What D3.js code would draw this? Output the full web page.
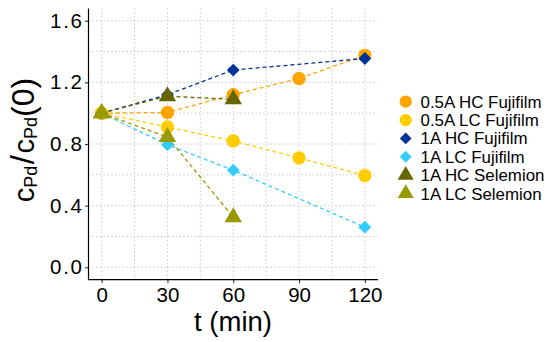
<!DOCTYPE html>
<html><head><meta charset="utf-8">
<script src="https://cdn.jsdelivr.net/npm/d3@7"></script>
<style>body{margin:0;background:#fff}svg{display:block;font-family:"Liberation Sans",Arial,sans-serif}</style>
</head><body><svg id="c" width="550" height="342"></svg>
<script>
const times = [0, 30, 60, 90, 120];
const seriesNames = ["0.5A HC Fujifilm","0.5A LC Fujifilm","1A HC Fujifilm","1A LC Fujifilm","1A HC Selemion","1A LC Selemion"];
const seriesColors = ["#FFA500","#FFCC00","#003399","#33CCFF","#666600","#999900"];
const seriesShapes = ["circle","circle","diamond","diamond","triangle","triangle"];
const v05HCFuji = [1.00, 1.005, 1.12, 1.225, 1.375];
const v05LCFuji = [1.00, 0.91, 0.82, 0.71, 0.595];
const v1HCFuji  = [1.00, 1.12, 1.28, null, 1.355];
const v1LCFuji  = [1.00, 0.795, 0.63, null, 0.26];
const v1HCSel   = [1.00, 1.11, 1.09, null, null];
const v1LCSel   = [1.00, 0.845, 0.325, null, null];
const seriesValues = [v05HCFuji, v05LCFuji, v1HCFuji, v1LCFuji, v1HCSel, v1LCSel];
const xTicks = [0, 30, 60, 90, 120];
const xMinor = [15, 45, 75, 105];
const yTicks = [0.0, 0.4, 0.8, 1.2, 1.6];
const yMinor = [0.2, 0.6, 1.0, 1.4];

const svg = d3.select("#c");
const x = d3.scaleLinear().domain([-6, 126]).range([88.5, 378]);
const y = d3.scaleLinear().domain([-0.08, 1.68]).range([279.6, 8.4]);

// grid
const grid = svg.append("g").attr("stroke", "#bdbdbd").attr("stroke-width", 1).attr("stroke-dasharray", "1.2,2.6").attr("fill","none");
xTicks.concat(xMinor).forEach(t => grid.append("line").attr("x1", x(t)).attr("x2", x(t)).attr("y1", 8.4).attr("y2", 279.6));
yTicks.concat(yMinor).forEach(v => grid.append("line").attr("y1", y(v)).attr("y2", y(v)).attr("x1", 88.5).attr("x2", 378));

// axes
const xAxis = d3.axisBottom(x).tickValues(xTicks).tickSize(3.5).tickPadding(4).tickFormat(d3.format("d"));
const yAxis = d3.axisLeft(y).tickValues(yTicks).tickSize(3.5).tickPadding(3).tickFormat(d3.format(".1f"));
const gx = svg.append("g").attr("transform", "translate(0,279.6)").call(xAxis);
const gy = svg.append("g").attr("transform", "translate(88.5,0)").call(yAxis);
[gx, gy].forEach(g => {
  g.select(".domain").remove();
  g.selectAll(".tick line").attr("stroke", "#333").attr("stroke-width", 1.1);
  g.selectAll(".tick text").attr("fill", "#000").attr("font-size", 20.5).attr("font-family", '"Liberation Sans",Arial,sans-serif');
});
gx.selectAll(".tick text").attr("dy", "0.72em");
gy.selectAll(".tick text").attr("textLength", 32).attr("lengthAdjust", "spacing");
svg.append("line").attr("x1", 88.5).attr("x2", 88.5).attr("y1", 8.4).attr("y2", 279.6).attr("stroke", "#000").attr("stroke-width", 1.2);
svg.append("line").attr("x1", 88.5).attr("x2", 378).attr("y1", 279.6).attr("y2", 279.6).attr("stroke", "#000").attr("stroke-width", 1.2);

// titles
svg.append("text").attr("x", 233).attr("y", 331).attr("text-anchor", "middle").attr("font-size", 27.5).text("t (min)");
const yl = svg.append("text").attr("transform", "translate(34,140) rotate(-90)").attr("text-anchor", "middle").attr("font-size", 29);
yl.append("tspan").text("c");
yl.append("tspan").attr("font-size", 18).attr("dy", 3).text("Pd");
yl.append("tspan").attr("dy", -3).attr("dx", 1.5).attr("font-size", 33).text("/");
yl.append("tspan").attr("dx", 1.5).text("c");
yl.append("tspan").attr("font-size", 18).attr("dy", 3).text("Pd");
yl.append("tspan").attr("dy", -3).attr("font-size", 32).text("(0)");

// symbols
function sym(g, shape, color, s) {
  s = s || 1;
  if (shape === "circle") g.append("circle").attr("r", 6.7 * s).attr("fill", color);
  else if (shape === "diamond") g.append("path").attr("d", d3.line()([[0,-6.4*s],[6.4*s,0],[0,6.4*s],[-6.4*s,0]]) + "Z").attr("fill", color);
  else g.append("path").attr("d", d3.line()([[0,-10*s],[8.7*s,5*s],[-8.7*s,5*s]]) + "Z").attr("fill", color);
}

// lines
const line = d3.line().defined(d => d[1] != null).x(d => x(d[0])).y(d => y(d[1]));
seriesValues.forEach((vals, i) => {
  const pts = times.map((t, j) => [t, vals[j]]).filter(d => d[1] != null);
  svg.append("path").attr("d", line(pts)).attr("fill", "none").attr("stroke", seriesColors[i]).attr("stroke-width", 1.3).attr("stroke-dasharray", "4,3");
});
// points
seriesValues.forEach((vals, i) => {
  times.forEach((t, j) => {
    if (vals[j] == null) return;
    const g = svg.append("g").attr("transform", `translate(${x(t)},${y(vals[j])})`);
    sym(g, seriesShapes[i], seriesColors[i]);
  });
});

// legend
seriesNames.forEach((n, i) => {
  const yy = 101.7 + i * 18.35;
  const g = svg.append("g").attr("transform", `translate(405.7,${yy})`);
  sym(g, seriesShapes[i], seriesColors[i], 0.92);
  svg.append("text").attr("x", 420.5).attr("y", yy).attr("dy", "0.36em").attr("font-size", 16.9).attr("fill", "#000").text(n);
});
</script></body></html>
